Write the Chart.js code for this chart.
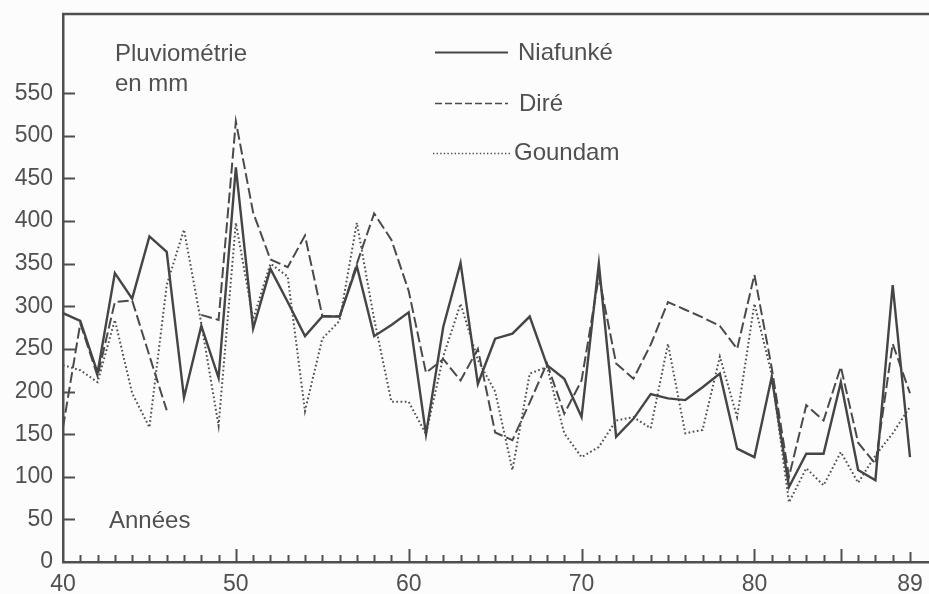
<!DOCTYPE html>
<html lang="fr">
<head>
<meta charset="utf-8">
<title>Pluviométrie annuelle — Niafunké, Diré, Goundam</title>
<script src="https://cdn.jsdelivr.net/npm/chart.js@4/dist/chart.umd.min.js"></script>
<style>
  html, body { margin: 0; padding: 0; background: #fbfcfb; }
  canvas { display: block; }
</style>
</head>
<body>
<canvas id="pluie" width="929" height="594"></canvas>
<script>
// Années (19xx)
const years = [40, 41, 42, 43, 44, 45, 46, 47, 48, 49,
               50, 51, 52, 53, 54, 55, 56, 57, 58, 59,
               60, 61, 62, 63, 64, 65, 66, 67, 68, 69,
               70, 71, 72, 73, 74, 75, 76, 77, 78, 79,
               80, 81, 82, 83, 84, 85, 86, 87, 88, 89];

// Pluviométrie annuelle en mm
const niafunke = [292, 283, 222, 339, 309, 382, 364, 193, 277, 216,
                  463, 274, 344, 305, 265, 288, 288, 347, 265, 278,
                  293, 150, 276, 351, 209, 262, 268, 288, 231, 215,
                  170, 350, 147, 168, 197, 192, 190, 205, 221, 133,
                  123, 217, 88, 127, 127, 211, 108, 96, 325, 123];

const dire = [158, 280, 218, 305, 307, 242, 178, null, 290, 284,
              517, 410, 355, 346, 383, 289, 288, 350, 409, 378,
              318, 222, 238, 213, 250, 152, 143, 187, 233, 174,
              213, 335, 233, 215, 255, 305, 296, 287, 277, 250,
              337, 228, 100, 184, 166, 229, 140, 115, 256, 198];

const goundam = [231, 225, 211, 284, 198, 158, 325, 390, 280, 160,
                 398, 285, 350, 335, 177, 262, 283, 398, 285, 188,
                 188, 150, 241, 303, 237, 200, 108, 221, 229, 151,
                 123, 135, 166, 170, 157, 256, 151, 155, 241, 170,
                 303, 220, 70, 110, 90, 129, 93, 125, 151, 182];

// Graduations
const yTickValues = [0, 50, 100, 150, 200, 250, 300, 350, 400, 450, 500, 550];
const xTickLabels = [40, 50, 60, 70, 80, 89];
const xMajorTicks = [50, 60, 70, 80, 85];

const INK = '#4f4f4f';
const FONT = '"Liberation Sans", Arial, Helvetica, sans-serif';

const toPoints = vals => years.map((yr, i) => ({ x: yr, y: vals[i] }));

const series = [
  { label: 'Niafunké', data: toPoints(niafunke), borderColor: '#454545', borderWidth: 2.4, borderDash: [] },
  { label: 'Diré',     data: toPoints(dire),     borderColor: '#4a4a4a', borderWidth: 2.0, borderDash: [11, 4] },
  { label: 'Goundam',  data: toPoints(goundam),  borderColor: '#505050', borderWidth: 2.0, borderDash: [1.7, 2.5] }
];

// Cadre, graduations intérieures, annotations et légende
const decorations = {
  id: 'decorations',
  afterDraw(chart) {
    const { ctx, chartArea: a, scales: { x, y } } = chart;
    ctx.save();
    ctx.strokeStyle = INK;
    ctx.lineCap = 'butt';

    // trait supérieur du cadre
    ctx.lineWidth = 2.5;
    ctx.beginPath();
    ctx.moveTo(a.left - 1, a.top);
    ctx.lineTo(a.right, a.top);
    ctx.stroke();

    // graduations de l'axe vertical
    ctx.lineWidth = 2;
    yTickValues.forEach(v => {
      if (v === 0) return;
      const py = Math.round(y.getPixelForValue(v)) + 0.5;
      ctx.beginPath();
      ctx.moveTo(a.left, py);
      ctx.lineTo(a.left + 12, py);
      ctx.stroke();
    });

    // graduations annuelles
    years.forEach(yr => {
      if (yr === 40) return;
      const px = Math.round(x.getPixelForValue(yr)) + 0.5;
      const len = xMajorTicks.includes(yr) ? 13 : (yr === 89 ? 10 : 7);
      ctx.beginPath();
      ctx.moveTo(px, a.bottom);
      ctx.lineTo(px, a.bottom - len);
      ctx.stroke();
    });

    // textes
    ctx.fillStyle = '#505050';
    ctx.font = '24px ' + FONT;
    ctx.textBaseline = 'alphabetic';
    ctx.textAlign = 'left';
    ctx.fillText('Pluviométrie', 115, 61);
    ctx.fillText('en mm', 115, 91);
    ctx.fillText('Années', 109, 528);

    // légende
    const rows = [
      { ds: 0, y: 52, x0: 435, x1: 508, tx: 518, ty: 60 },
      { ds: 1, y: 103, x0: 435, x1: 508, tx: 519, ty: 111 },
      { ds: 2, y: 153, x0: 433, x1: 510, tx: 514, ty: 160 }
    ];
    rows.forEach(r => {
      const ds = chart.data.datasets[r.ds];
      ctx.strokeStyle = ds.borderColor;
      ctx.lineWidth = r.ds === 0 ? 2 : 1.6;
      ctx.setLineDash(r.ds === 1 ? [7, 3] : (r.ds === 2 ? [1.4, 2.2] : []));
      ctx.beginPath();
      ctx.moveTo(r.x0, r.y + 0.5);
      ctx.lineTo(r.x1, r.y + 0.5);
      ctx.stroke();
      ctx.setLineDash([]);
      ctx.fillText(ds.label, r.tx, r.ty);
    });
    ctx.restore();
  }
};

new Chart(document.getElementById('pluie'), {
  type: 'line',
  data: {
    datasets: series.map(s => ({
      label: s.label,
      data: s.data,
      borderColor: s.borderColor,
      borderWidth: s.borderWidth,
      borderDash: s.borderDash,
      borderJoinStyle: 'miter',
      pointRadius: 0,
      tension: 0,
      spanGaps: false,
      fill: false
    }))
  },
  options: {
    responsive: false,
    animation: false,
    devicePixelRatio: 1,
    layout: { padding: { top: 14, right: 0, bottom: 0, left: 0 } },
    plugins: { legend: { display: false }, tooltip: { enabled: false } },
    scales: {
      x: {
        type: 'linear',
        min: 40,
        max: 90.1,
        afterFit: s => {
          s.height = 32;
          s.paddingLeft = 0; s.paddingRight = 0;
        },
        afterBuildTicks: s => { s.ticks = xTickLabels.map(v => ({ value: v })); },
        ticks: {
          autoSkip: false, maxRotation: 0, padding: 9,
          color: '#505050', font: { family: FONT, size: 23 },
          callback: v => String(v)
        },
        grid: { display: false, drawTicks: false },
        border: { display: true, color: INK, width: 2.5 }
      },
      y: {
        min: 0,
        max: 643,
        afterFit: s => {
          s.width = 63;
          s.paddingTop = 0; s.paddingBottom = 0;
        },
        afterBuildTicks: s => { s.ticks = yTickValues.map(v => ({ value: v })); },
        ticks: {
          padding: 10,
          color: '#505050', font: { family: FONT, size: 23 },
          callback: v => String(v)
        },
        grid: { display: false, drawTicks: false },
        border: { display: true, color: INK, width: 2.5 }
      }
    }
  },
  plugins: [decorations]
});
</script>
</body>
</html>
